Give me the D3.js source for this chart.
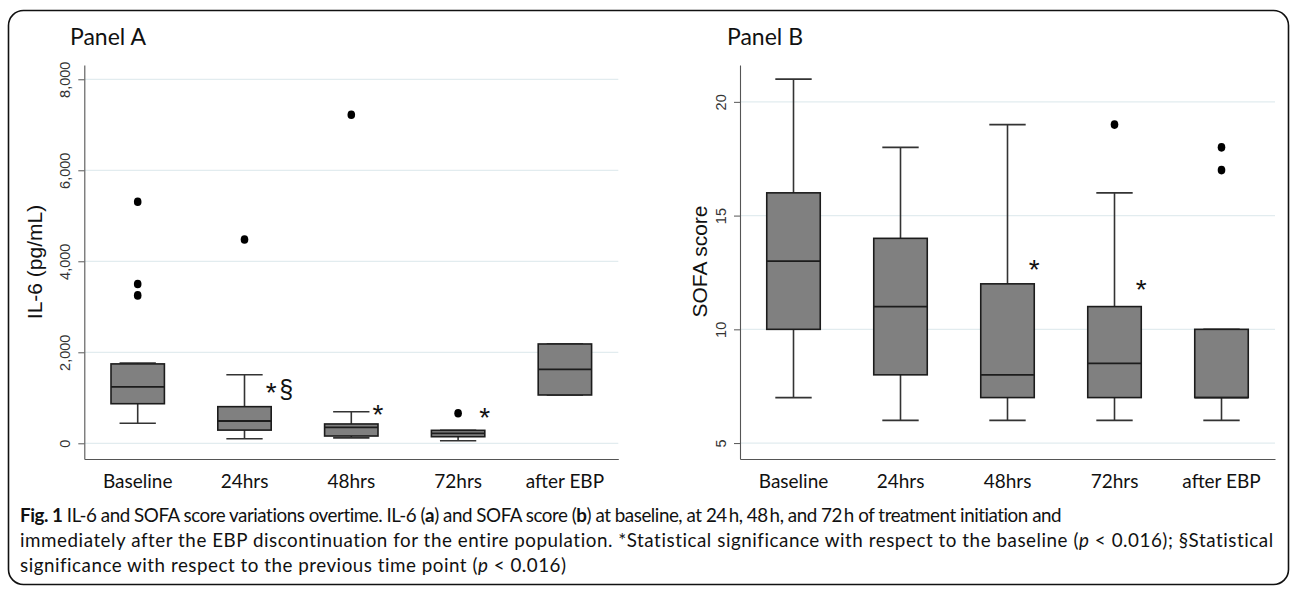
<!DOCTYPE html>
<html>
<head>
<meta charset="utf-8">
<script src="https://cdn.jsdelivr.net/npm/d3@7"></script>
<style>
  html, body { margin: 0; padding: 0; background: #fff; }
  svg { display: block; }
</style>
</head>
<body>
<script>
// ---------------- DATA ----------------
const categories = ["Baseline", "24hrs", "48hrs", "72hrs", "after EBP"];

// Panel A: IL-6 (pg/mL)
const il6Low     = [440, 100, 120, 55, 1062];
const il6Q1      = [870, 290, 160, 145, 1062];
const il6Median  = [1240, 490, 350, 220, 1625];
const il6Q3      = [1745, 805, 425, 285, 2183];
const il6High    = [1765, 1505, 695, 285, 2183];
const il6Outliers = [[3250, 3500, 5310], [4480], [7220], [660], []];
const il6Ticks   = [0, 2000, 4000, 6000, 8000];
const il6Domain  = [-345, 8314];
const il6AnnotSymbols = [[], ["*", "§"], ["*"], ["*"], []];
const il6AnnotValues  = [[], [1244, 1150], [769], [695], []];

// Panel B: SOFA score
const sofaLow    = [7, 6, 6, 6, 6];
const sofaQ1     = [10, 8, 7, 7, 7];
const sofaMedian = [13, 11, 8, 8.5, 7];
const sofaQ3     = [16, 14, 12, 11, 10];
const sofaHigh   = [21, 18, 19, 16, 10];
const sofaOutliers = [[], [], [], [19], [17, 18]];
const sofaTicks  = [5, 10, 15, 20];
const sofaDomain = [4.3, 21.62];
const sofaAnnotSymbols = [[], [], ["*"], ["*"], []];
const sofaAnnotValues  = [[], [], [12.9], [12.0], []];

const captionLines = [
  [["Fig. 1", "bold"], [" IL-6 and SOFA score variations overtime. IL-6 (", ""], ["a", "bold"], [") and SOFA score (", ""], ["b", "bold"], [") at baseline, at 24\u2009h, 48\u2009h, and 72\u2009h of treatment initiation and", ""]],
  [["immediately after the EBP discontinuation for the entire population. *Statistical significance with respect to the baseline (", ""], ["p", "italic"], [" < 0.016); \u00A7Statistical", ""]],
  [["significance with respect to the previous time point (", ""], ["p", "italic"], [" < 0.016)", ""]]
];

// ---------------- DRAW ----------------
const W = 1295, H = 592;
const svg = d3.select("body").append("svg").attr("width", W).attr("height", H);
svg.append("rect").attr("width", W).attr("height", H).attr("fill", "#fff");

// outer frame
svg.append("rect").attr("x", 8.5).attr("y", 10.5).attr("width", 1280).attr("height", 574)
  .attr("rx", 15).attr("fill", "none").attr("stroke", "#111").attr("stroke-width", 1.6);

const yTop = 65, yBottom = 459;

function drawPanel(cfg) {
  const g = svg.append("g");
  const x = d3.scaleBand().domain(categories).range([cfg.x0, cfg.x1]).padding(0);
  const y = d3.scaleLinear().domain(cfg.domain).range([yBottom, yTop]);
  const bw = x.bandwidth();
  const boxW = bw * 0.5;
  const capW = boxW * 0.68;

  // gridlines
  g.append("g").selectAll("line").data(cfg.ticks).join("line")
    .attr("x1", cfg.x0).attr("x2", cfg.x1)
    .attr("y1", d => y(d)).attr("y2", d => y(d))
    .attr("stroke", "#e2ecef").attr("stroke-width", 1.2);

  // y axis
  const ya = g.append("g").attr("transform", `translate(${cfg.x0},0)`)
    .call(d3.axisLeft(y).tickValues(cfg.ticks).tickSize(6).tickSizeOuter(0).tickFormat(cfg.fmt));
  ya.select(".domain").attr("stroke", "#555").attr("stroke-width", 1.1);
  ya.selectAll(".tick line").attr("stroke", "#555");
  ya.selectAll(".tick text")
    .attr("transform", "rotate(-90)")
    .attr("x", 0).attr("y", -14).attr("dy", 0)
    .attr("text-anchor", "middle")
    .attr("font-family", "Arial, 'Liberation Sans', sans-serif")
    .attr("font-size", 14.5).attr("fill", "#333");

  // x axis
  const xa = g.append("g").attr("transform", `translate(0,${yBottom})`)
    .call(d3.axisBottom(x).tickSize(0).tickSizeOuter(0));
  xa.select(".domain").attr("stroke", "#555").attr("stroke-width", 1.1);
  xa.selectAll(".tick text").attr("y", 29).attr("dy", 0)
    .attr("font-family", "Lato, 'Open Sans', sans-serif")
    .attr("font-size", 19).attr("fill", "#111");

  // boxes
  categories.forEach((c, i) => {
    const cx = x(c) + bw / 2;
    const bg = g.append("g");
    const wStyle = s => s.attr("stroke", "#333").attr("stroke-width", 1.6);
    // whiskers
    wStyle(bg.append("line").attr("x1", cx).attr("x2", cx).attr("y1", y(cfg.high[i])).attr("y2", y(cfg.q3[i])));
    wStyle(bg.append("line").attr("x1", cx).attr("x2", cx).attr("y1", y(cfg.q1[i])).attr("y2", y(cfg.low[i])));
    // caps
    wStyle(bg.append("line").attr("x1", cx - capW / 2).attr("x2", cx + capW / 2).attr("y1", y(cfg.high[i])).attr("y2", y(cfg.high[i])));
    wStyle(bg.append("line").attr("x1", cx - capW / 2).attr("x2", cx + capW / 2).attr("y1", y(cfg.low[i])).attr("y2", y(cfg.low[i])));
    // box
    bg.append("rect").attr("x", cx - boxW / 2).attr("width", boxW)
      .attr("y", y(cfg.q3[i])).attr("height", y(cfg.q1[i]) - y(cfg.q3[i]))
      .attr("fill", "#808080").attr("stroke", "#1c1c1c").attr("stroke-width", 1.6);
    // median
    bg.append("line").attr("x1", cx - boxW / 2).attr("x2", cx + boxW / 2)
      .attr("y1", y(cfg.median[i])).attr("y2", y(cfg.median[i]))
      .attr("stroke", "#1c1c1c").attr("stroke-width", 1.8);
    // outliers
    bg.selectAll("ellipse").data(cfg.outliers[i]).join("ellipse")
      .attr("cx", cx).attr("cy", d => y(d)).attr("rx", 3.8).attr("ry", 4.3).attr("fill", "#000");
    // annotations
    cfg.annSym[i].forEach((s, k) => {
      const isStar = s === "*";
      const fs = isStar ? 28 : 25;
      const ax = cx + boxW / 2 + (k === 0 ? 0 : 15);
      const off = isStar ? 0.55 * fs : 0.27 * fs;
      bg.append("text").attr("x", ax).attr("y", y(cfg.annVal[i][k]) + off)
        .attr("text-anchor", "middle")
        .attr("font-family", "Arial, 'Liberation Sans', sans-serif")
        .attr("font-size", fs).attr("fill", "#111").text(s);
    });
  });

  // y label
  svg.append("text")
    .attr("transform", `translate(${cfg.labelX},${cfg.labelY}) rotate(-90)`)
    .attr("text-anchor", "middle")
    .attr("font-family", "Arial, 'Liberation Sans', sans-serif")
    .attr("font-size", 21).attr("fill", "#111").text(cfg.label);

  // title
  svg.append("text").attr("x", cfg.titleX).attr("y", 45)
    .attr("font-family", "Lato, 'Open Sans', sans-serif")
    .attr("font-size", 23).attr("fill", "#111").text(cfg.title);
}

drawPanel({
  x0: 84.3, x1: 618.3, domain: il6Domain, ticks: il6Ticks, fmt: d3.format(","),
  low: il6Low, q1: il6Q1, median: il6Median, q3: il6Q3, high: il6High, outliers: il6Outliers,
  annSym: il6AnnotSymbols, annVal: il6AnnotValues,
  label: "IL-6 (pg/mL)", labelX: 42, labelY: 262, title: "Panel A", titleX: 70
});

drawPanel({
  x0: 740, x1: 1275, domain: sofaDomain, ticks: sofaTicks, fmt: d3.format("d"),
  low: sofaLow, q1: sofaQ1, median: sofaMedian, q3: sofaQ3, high: sofaHigh, outliers: sofaOutliers,
  annSym: sofaAnnotSymbols, annVal: sofaAnnotValues,
  label: "SOFA score", labelX: 707, labelY: 261.5, title: "Panel B", titleX: 727
});

// caption
const capY = [522, 547, 572];
const capLen = [1043, 1255, 546];
captionLines.forEach((line, li) => {
  const t = svg.append("text").attr("x", 20).attr("y", capY[li])
    .attr("font-family", "Lato, 'Open Sans', sans-serif")
    .attr("font-size", 18.8).attr("fill", "#111");
  let nChars = 0;
  line.forEach(([s, st]) => {
    nChars += s.length;
    const ts = t.append("tspan").text(s);
    if (st === "bold") ts.attr("font-weight", "bold");
    if (st === "italic") ts.attr("font-style", "italic");
  });
  const w = t.node().getComputedTextLength();
  const ls = (capLen[li] - w) / Math.max(1, nChars - 1);
  t.attr("letter-spacing", ls.toFixed(3));
});
</script>
</body>
</html>
